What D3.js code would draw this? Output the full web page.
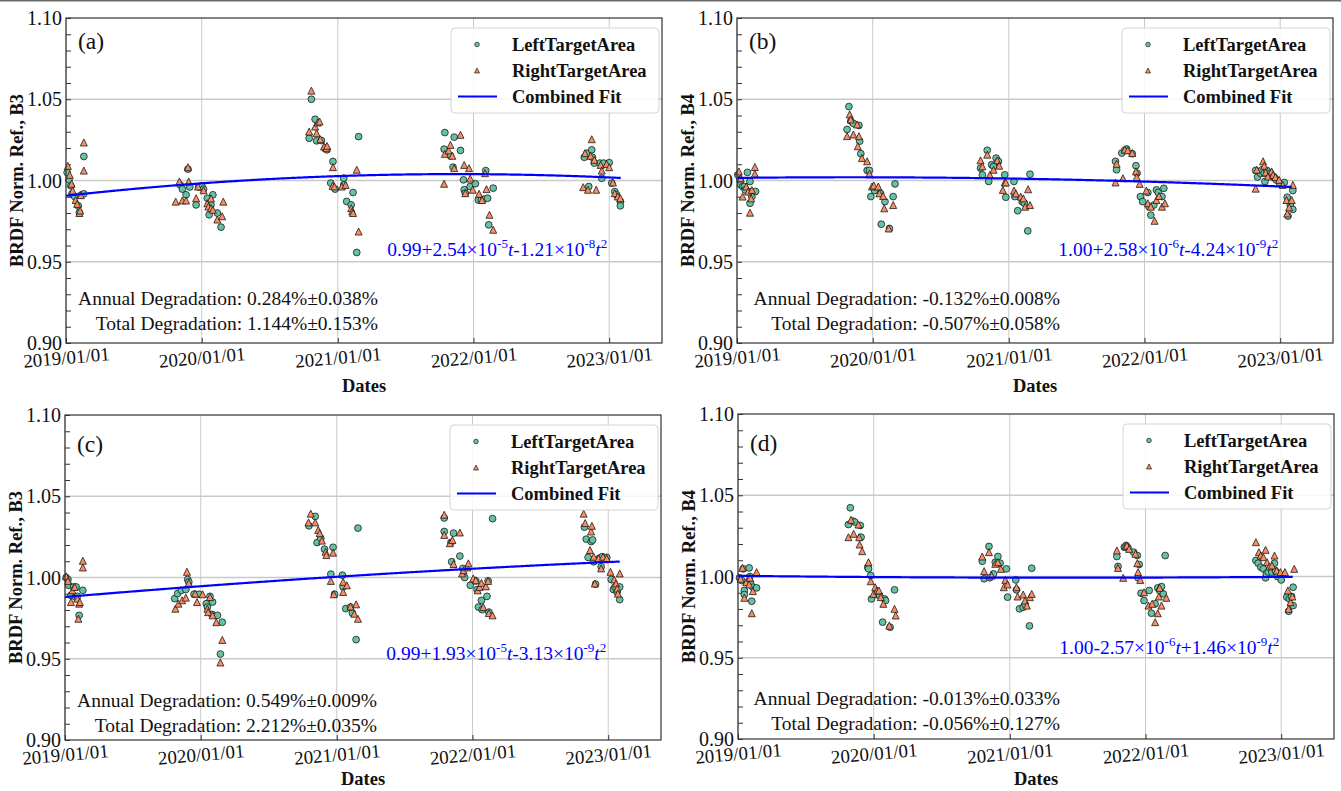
<!DOCTYPE html>
<html>
<head>
<meta charset="utf-8">
<script src="https://cdn.jsdelivr.net/npm/d3@7"></script>
<style>
  html, body { margin: 0; padding: 0; background: #fff; }
  svg { display: block; font-family: "Liberation Serif", "Times New Roman", serif; }
</style>
</head>
<body>
<svg id="chart" width="1341" height="791"></svg>
<script>
// ---- data: [t (days since 2019-01-01), normalized reflectance] ----
const leftA = [[3,1.0049],[8,1.0004],[13,0.9967],[16,0.9918],[23,0.9902],[33,0.9844],[36,0.9803],[40,0.991],[48,1.0148],[48,0.9918],
[307,0.9973],[313,0.9947],[323,0.9912],[328,1.007],[333,0.996],[350,0.985],[357,0.996],[365,0.9967],[370,0.9947],[380,0.9891],[385,0.9789],[390,0.985],[395,0.9912],[407,0.980],[417,0.9713],
[654,1.026],[660,1.05],[670,1.0377],[674,1.0244],[687,1.0246],[697,1.0199],[702,1.0189],[712,0.9984],[718,1.0117],[724,0.9947],[747,1.0014],[747,0.9973],[755,0.9871],[767,0.985],[772,0.9926],[782,0.9557],[787,1.027],
[1017,1.0193],[1019,1.0295],[1034,1.0152],[1041,1.0082],[1044,1.0267],[1061,1.0185],[1069,1.0004],[1071,0.9943],[1074,0.9922],[1087,0.9963],[1101,0.998],[1109,0.988],[1117,0.988],[1124,0.9885],[1129,1.0061],[1134,0.9891],[1137,0.9727],[1149,0.9953],
[1394,1.0143],[1401,1.0168],[1406,0.9963],[1414,1.0189],[1416,1.0143],[1421,1.0107],[1436,1.0107],[1441,1.0014],[1446,1.0107],[1461,1.011],[1468,0.9984],[1476,0.9932],[1481,0.9912],[1491,0.9871],[1491,0.9844]];

const rightA = [[5,1.009],[10,1.0035],[15,0.998],[18,0.9938],[26,0.988],[30,0.9856],[36,0.980],[38,0.9815],[40,0.991],[48,1.0234],[48,1.0061],
[295,0.987],[305,0.9994],[313,0.9877],[323,0.9877],[328,1.0082],[330,0.9994],[350,0.9891],[355,0.9963],[370,0.994],[380,0.986],[383,0.984],[390,0.983],[390,0.989],[395,0.982],[407,0.976],[420,0.978],[423,0.987],
[654,1.0301],[660,1.0553],[670,1.0332],[674,1.0291],[677,1.0357],[682,1.0363],[684,1.0254],[694,1.0209],[700,1.0199],[702,1.0213],[717,0.9967],[718,1.0082],[722,0.9963],[742,0.9963],[752,0.9973],[767,0.983],[770,0.981],[772,0.980],[782,1.0066],[787,0.9686],
[1017,0.998],[1019,1.0164],[1029,1.0185],[1034,1.0219],[1039,1.0152],[1044,1.0076],[1061,1.0281],[1071,1.0096],[1074,0.9922],[1084,1.0076],[1087,1.0012],[1094,0.9943],[1111,0.9918],[1119,0.988],[1127,1.0045],[1131,0.9947],[1139,0.9789],[1149,0.9697],
[1391,0.9959],[1396,1.0168],[1404,0.9943],[1411,1.0152],[1414,1.0254],[1421,1.0127],[1426,0.9943],[1438,1.0096],[1441,1.0061],[1454,1.0102],[1461,1.0082],[1471,0.9988],[1476,0.9922],[1484,0.9902],[1491,0.9891]];

const leftB = [[2,1.0035],[8,1.0004],[10,0.9973],[15,0.9963],[20,0.9963],[22,0.9942],[28,1.005],[35,0.9994],[35,0.986],[38,0.9932],[40,0.9901],[50,0.9932],
[296,1.0314],[301,1.0455],[306,1.0366],[313,1.0351],[328,1.0339],[330,1.0242],[333,1.0165],[350,1.0062],[356,1.0062],[360,0.9901],[370,0.9938],[386,0.9921],[388,0.9731],[398,0.987],[410,0.9705],[420,0.9901],[425,0.9979],
[655,1.0076],[660,1.0035],[673,1.0186],[677,0.9994],[685,1.0097],[690,1.0087],[697,1.0138],[703,1.0118],[720,1.0035],[723,0.9897],[745,0.9994],[747,0.9901],[755,0.9814],[767,0.987],[773,0.986],[782,0.969],[788,1.0039],
[1018,1.0118],[1021,1.0066],[1035,1.0169],[1043,1.0186],[1048,1.0194],[1063,1.0165],[1073,1.0091],[1076,1.0045],[1085,0.9901],[1091,0.987],[1105,0.9926],[1108,0.9839],[1113,0.9787],[1121,0.9849],[1128,0.9942],[1133,0.9926],[1143,0.9901],[1148,0.9952],
[1395,1.0062],[1400,1.0021],[1408,1.0045],[1412,1.0066],[1418,1.0045],[1420,0.9994],[1425,1.0062],[1435,1.0045],[1445,1.0021],[1450,1.0004],[1460,0.9979],[1472,0.9988],[1480,0.9897],[1482,0.9781],[1488,0.9849],[1495,0.9938],[1495,0.9822]];

const rightB = [[5,1.0056],[10,1.0014],[15,0.9901],[25,0.9963],[30,0.9932],[35,0.9802],[38,0.989],[40,0.9942],[48,1.0083],[48,1.0041],
[296,1.0273],[303,1.0407],[306,1.0376],[313,1.0283],[323,1.0345],[325,1.0211],[328,1.0273],[336,1.0138],[350,1.0118],[356,1.0041],[363,0.9963],[368,0.9969],[380,0.9963],[383,0.9921],[393,0.9905],[396,0.9829],[408,0.9705],[420,0.9849],
[655,1.0124],[660,1.0087],[673,1.0159],[680,1.0035],[690,1.0066],[700,1.0124],[705,1.0091],[715,0.9942],[720,0.9988],[723,0.9988],[745,0.9938],[750,0.9921],[763,0.9901],[770,0.989],[775,0.9839],[783,0.9946],[788,0.9849],
[1018,0.9988],[1021,1.0103],[1038,1.0014],[1043,1.019],[1051,1.0186],[1063,1.0169],[1073,1.0056],[1075,1.0021],[1083,0.9979],[1101,0.9938],[1105,0.986],[1113,0.9839],[1123,0.9752],[1128,0.988],[1135,0.9905],[1143,0.9839],[1151,0.986],
[1395,0.995],[1398,1.0066],[1415,1.0118],[1418,1.0091],[1422,1.005],[1428,1.0025],[1438,1.0056],[1442,1.0035],[1448,1.0021],[1458,1.0004],[1468,0.9973],[1478,0.988],[1480,0.9797],[1485,0.9835],[1492,0.988],[1495,0.9973]];

const leftC = [[3,1.0],[8,0.9988],[10,0.9952],[16,0.989],[23,0.9942],[28,0.988],[30,0.9942],[33,0.9884],[38,0.9767],[48,0.9921],
[295,0.987],[303,0.9901],[313,0.9921],[325,0.9926],[330,0.9988],[333,0.9973],[347,0.9897],[360,0.9897],[380,0.9839],[383,0.9818],[390,0.9884],[395,0.9773],[397,0.9849],[410,0.9767],[418,0.9529],[423,0.9725],
[656,1.0318],[673,1.0376],[678,1.0215],[688,1.0242],[698,1.0174],[715,1.0021],[721,1.0186],[725,0.9897],[746,1.0014],[748,0.9942],[755,0.9808],[768,0.9818],[773,0.9781],[783,0.9618],[788,1.0304],
[1020,1.0366],[1020,1.0283],[1038,1.0215],[1040,1.0097],[1045,1.0273],[1062,1.0132],[1070,1.0056],[1075,1.0],[1090,0.9952],[1105,0.9979],[1108,0.9926],[1112,0.9818],[1120,0.9859],[1122,0.9802],[1135,0.9884],[1138,0.9979],[1140,0.9787],[1150,1.0362],
[1397,1.031],[1402,1.0236],[1407,1.0124],[1415,1.0221],[1419,1.0231],[1422,1.0097],[1427,0.9959],[1437,1.0118],[1442,1.0066],[1445,1.0128],[1457,1.0124],[1469,0.9988],[1475,0.9926],[1479,0.9942],[1485,0.9911],[1492,0.9942],[1492,0.9864]];

const rightC = [[3,1.0008],[8,0.9979],[16,0.9849],[20,0.9921],[26,0.9942],[33,0.987],[36,0.9746],[38,0.9839],[40,0.9849],[48,1.0103],[48,1.0062],
[297,0.9808],[305,0.9839],[315,0.986],[325,0.9876],[328,1.0035],[333,0.9967],[350,0.9901],[355,0.9849],[370,0.9897],[383,0.9808],[385,0.9787],[390,0.988],[397,0.9767],[407,0.9725],[418,0.9477],[423,0.9616],
[655,1.0339],[661,1.0393],[673,1.0339],[681,1.0293],[685,1.0273],[691,1.0227],[701,1.0159],[703,1.0138],[715,0.9979],[721,1.0153],[723,0.9897],[748,0.9911],[748,0.9973],[758,0.9952],[768,0.9822],[778,0.9777],[783,0.9835],[788,0.9746],
[1020,1.0386],[1020,1.0262],[1035,1.0211],[1042,1.0231],[1045,1.0083],[1062,1.0277],[1068,1.0025],[1072,1.0045],[1082,1.0062],[1085,1.0087],[1098,0.9994],[1105,0.9983],[1110,0.9921],[1115,0.9942],[1120,0.9967],[1125,0.9818],[1132,0.9946],[1138,0.9979],[1140,0.9781],[1150,0.9767],
[1395,1.0393],[1399,1.0335],[1412,1.0169],[1415,1.0283],[1417,1.0318],[1422,1.0128],[1425,0.9963],[1435,1.0118],[1442,1.0056],[1447,1.0128],[1457,1.0118],[1467,1.0035],[1477,0.9988],[1482,0.9963],[1485,0.9932],[1487,0.9901],[1492,1.0025]];

const leftD = [[4,0.9992],[10,0.9975],[14,1.0047],[17,0.9914],[17,0.9889],[30,1.0053],[32,1.0],[34,0.9959],[37,0.9848],[40,0.9934],[50,0.993],
[297,1.032],[302,1.0423],[309,1.0341],[314,1.0335],[329,1.0314],[331,1.0242],[349,1.0057],[351,1.0047],[357,1.0006],[359,0.9862],[371,0.9889],[381,0.9883],[389,0.9719],[394,0.9862],[397,0.9852],[409,0.9688],[421,0.9918],
[657,1.0094],[662,0.9986],[675,1.0185],[677,0.9992],[687,1.0016],[692,1.0088],[699,1.0123],[705,1.0082],[722,1.0047],[725,0.9873],[747,0.9979],[749,0.9918],[757,0.9801],[767,0.9811],[772,0.9828],[784,0.9696],[790,1.0051],
[1019,1.0123],[1022,1.0062],[1039,1.0181],[1044,1.0191],[1049,1.0177],[1064,1.015],[1074,1.0129],[1076,0.9992],[1079,1.0074],[1084,0.9897],[1092,0.9852],[1106,0.9914],[1112,0.9774],[1122,0.9832],[1129,0.993],[1134,0.9914],[1139,0.9938],[1144,0.9893],[1149,1.0129],
[1393,1.0099],[1399,1.0082],[1406,1.0057],[1413,1.0047],[1419,0.9992],[1421,1.0016],[1426,1.0027],[1436,1.0027],[1443,1.0082],[1446,1.0033],[1451,1.0],[1461,0.9979],[1476,0.9873],[1481,0.9786],[1483,0.9862],[1489,0.9877],[1493,0.9934],[1493,0.9821]];

const rightD = [[7,0.9986],[12,1.0053],[17,0.9869],[22,0.9965],[30,0.9951],[32,0.9992],[37,0.9774],[40,0.991],[50,1.0027],
[297,1.0242],[304,1.0349],[311,1.0263],[324,1.032],[326,1.0242],[327,1.0197],[334,1.0156],[351,1.0088],[357,0.9971],[364,0.9893],[369,0.9934],[374,0.9914],[379,0.9914],[384,0.9873],[391,0.9832],[407,0.9698],[421,0.9801],[424,0.976],
[657,1.0123],[662,1.0033],[675,1.015],[682,1.0006],[692,1.0078],[699,1.0088],[707,1.0047],[715,0.9934],[719,0.9979],[725,0.9951],[749,0.9934],[752,0.9877],[767,0.9889],[772,0.9852],[777,0.9821],[785,0.9873],[790,0.9893],
[1019,1.016],[1022,1.0053],[1036,0.9992],[1042,1.0185],[1046,1.0191],[1052,1.017],[1069,1.014],[1074,1.0082],[1076,1.0027],[1082,0.9979],[1092,0.9903],[1104,0.9821],[1114,0.9832],[1122,0.9719],[1129,0.9774],[1132,0.9877],[1134,0.993],[1139,0.9821],[1152,0.9869],
[1393,1.0211],[1401,1.015],[1406,1.0129],[1413,1.0119],[1419,1.0164],[1423,1.0088],[1429,1.0062],[1436,1.0068],[1443,1.0129],[1449,1.0037],[1459,1.0027],[1471,1.0027],[1479,0.9914],[1481,0.9801],[1486,0.9842],[1491,0.9877],[1496,1.0047]];

// quadratic fit coefficients  c0 + c1 t + c2 t^2
const fitA = [0.9906, 2.54e-5, -1.21e-8];
const fitB = [1.0016, 2.58e-6, -4.24e-9];
const fitC = [0.9880, 1.93e-5, -3.13e-9];
const fitD = [1.0004, -2.57e-6, 1.46e-9];
const fitRange = [0, 1494];

const panelLabels = ["(a)", "(b)", "(c)", "(d)"];
const bandNames = ["B3", "B4", "B3", "B4"];
const annualDeg = ["0.284%±0.038%", "-0.132%±0.008%", "0.549%±0.009%", "-0.013%±0.033%"];
const totalDeg = ["1.144%±0.153%", "-0.507%±0.058%", "2.212%±0.035%", "-0.056%±0.127%"];
const xTickLabels = ["2019/01/01", "2020/01/01", "2021/01/01", "2022/01/01", "2023/01/01"];
const yTickLabels = ["0.90", "0.95", "1.00", "1.05", "1.10"];
const legendLabels = ["LeftTargetArea", "RightTargetArea", "Combined Fit"];

// ---- drawing ----
const DAY = 864e5;
const T0 = Date.UTC(2019, 0, 1);
const X_END_DAYS = 1603;
const COLORS = { left: "#66c2a5", right: "#fc8d62", fit: "#0000ff", grid: "#c9c9c9", spine: "#333" };

const panels = [
  { x: 66,  y: 18,  w: 596, h: 325, labelDy: 31, eqDy: 238, degDy: 287, degDx: 312, titleDy: 49, left: leftA, right: rightA, fit: fitA },
  { x: 737, y: 18,  w: 596, h: 325, labelDy: 31, eqDy: 238, degDy: 287, degDx: 323, titleDy: 49, left: leftB, right: rightB, fit: fitB },
  { x: 65,  y: 415, w: 596, h: 325, labelDy: 37, eqDy: 245, degDy: 292, degDx: 312, titleDy: 45, left: leftC, right: rightC, fit: fitC },
  { x: 738, y: 414, w: 596, h: 325, labelDy: 37, eqDy: 240, degDy: 291, degDx: 322, titleDy: 46, left: leftD, right: rightD, fit: fitD }
];

const svg = d3.select("#chart");
svg.append("rect").attr("x", 0).attr("y", 0).attr("width", 1341).attr("height", 1.5).attr("fill", "#6a6a6a");

const toDate = t => new Date(T0 + t * DAY);
const triPath = r => `M0,${-r}L${r},${r}L${-r},${r}Z`;

function sciParts(v) {
  const a = Math.abs(v);
  const e = Math.floor(Math.log10(a));
  return { sign: v < 0 ? "-" : "+", mant: (a / Math.pow(10, e)).toFixed(2), exp: String(e) };
}

function drawPanel(i) {
  const P = panels[i];
  const g = svg.append("g").attr("transform", `translate(${P.x},${P.y})`);
  const x = d3.scaleUtc().domain([toDate(0), toDate(X_END_DAYS)]).range([0, P.w]);
  const y = d3.scaleLinear().domain([0.90, 1.10]).range([P.h, 0]);
  const yearDates = xTickLabels.map(s => new Date(Date.UTC(+s.slice(0, 4), 0, 1)));
  const yMajor = yTickLabels.map(Number);
  const yMinor = d3.range(0, 21).map(k => +(0.90 + k * 0.01).toFixed(2));

  // grid
  g.append("g").selectAll("line").data(yearDates).join("line")
    .attr("x1", d => x(d)).attr("x2", d => x(d)).attr("y1", 0).attr("y2", P.h)
    .attr("stroke", COLORS.grid).attr("stroke-width", 1);
  g.append("g").selectAll("line").data(yMajor.slice(1, -1)).join("line")
    .attr("x1", 0).attr("x2", P.w).attr("y1", d => y(d)).attr("y2", d => y(d))
    .attr("stroke", COLORS.grid).attr("stroke-width", 1.3);

  // y axis (inward ticks)
  const yAx = g.append("g").call(
    d3.axisLeft(y).tickValues(yMinor).tickSize(-5).tickPadding(4)
      .tickFormat(d => { const k = yMajor.findIndex(m => Math.abs(m - d) < 1e-9); return k >= 0 ? yTickLabels[k] : ""; })
  );
  yAx.select(".domain").remove();
  yAx.selectAll("line").attr("stroke", COLORS.spine).attr("stroke-width", 1);
  yAx.selectAll("text").attr("font-size", 20).attr("font-family", "Liberation Serif").attr("fill", "#111").attr("dy", "0.33em");

  // x axis (inward ticks, tilted labels)
  const xAx = g.append("g").attr("transform", `translate(0,${P.h})`).call(
    d3.axisBottom(x).tickValues(yearDates).tickSize(-5).tickFormat((d, j) => xTickLabels[j])
  );
  xAx.select(".domain").remove();
  xAx.selectAll("line").attr("stroke", COLORS.spine);
  xAx.selectAll("text").attr("font-size", 19).attr("font-family", "Liberation Serif").attr("fill", "#111")
    .attr("y", 21).attr("dy", null).attr("transform", "rotate(-5,0,15)");

  // scatter: left target area (circles), then right target area (triangles)
  g.append("g").selectAll("circle").data(P.left).join("circle")
    .attr("cx", d => x(toDate(d[0]))).attr("cy", d => y(d[1])).attr("r", 3.4)
    .attr("fill", COLORS.left).attr("stroke", "#1a1a1a").attr("stroke-width", 0.8);
  g.append("g").selectAll("path").data(P.right).join("path")
    .attr("transform", d => `translate(${x(toDate(d[0]))},${y(d[1])})`).attr("d", triPath(3.5))
    .attr("fill", COLORS.right).attr("stroke", "#1a1a1a").attr("stroke-width", 0.8);

  // combined quadratic fit
  const c = P.fit;
  const ts = d3.range(fitRange[0], fitRange[1] + 1, 4);
  g.append("path").datum(ts)
    .attr("d", d3.line().x(t => x(toDate(t))).y(t => y(c[0] + c[1] * t + c[2] * t * t)))
    .attr("fill", "none").attr("stroke", COLORS.fit).attr("stroke-width", 2.2);

  // frame
  g.append("rect").attr("width", P.w).attr("height", P.h).attr("fill", "none")
    .attr("stroke", COLORS.spine).attr("stroke-width", 1.2);

  // panel tag
  g.append("text").attr("x", 12).attr("y", P.labelDy).attr("font-size", 23.5).attr("fill", "#111").text(panelLabels[i]);

  // fit equation
  const p1 = sciParts(c[1]), p2 = sciParts(c[2]);
  const eq = g.append("text").attr("x", x(yearDates[4]) - 2).attr("y", P.eqDy)
    .attr("text-anchor", "end").attr("font-size", 19.5).attr("fill", COLORS.fit);
  eq.append("tspan").text(`${c[0].toFixed(2)}${p1.sign}${p1.mant}×10`);
  eq.append("tspan").attr("font-size", 13).attr("dy", -8).text(p1.exp);
  eq.append("tspan").attr("font-style", "italic").attr("dy", 8).text("t");
  eq.append("tspan").text(`${p2.sign}${p2.mant}×10`);
  eq.append("tspan").attr("font-size", 13).attr("dy", -8).text(p2.exp);
  eq.append("tspan").attr("font-style", "italic").attr("dy", 8).text("t");
  eq.append("tspan").attr("font-size", 13).attr("dy", -8).text("2");

  // degradation annotation
  g.append("text").attr("x", P.degDx).attr("y", P.degDy).attr("text-anchor", "end")
    .attr("font-size", 19.5).attr("fill", "#111").text(`Annual Degradation: ${annualDeg[i]}`);
  g.append("text").attr("x", P.degDx).attr("y", P.degDy + 24.5).attr("text-anchor", "end")
    .attr("font-size", 19.5).attr("fill", "#111").text(`Total Degradation: ${totalDeg[i]}`);

  // legend
  const lw = 208, lh = 85;
  const lg = g.append("g").attr("transform", `translate(${P.w - 3 - lw},10)`);
  lg.append("rect").attr("width", lw).attr("height", lh).attr("rx", 4)
    .attr("fill", "#fff").attr("fill-opacity", 0.85).attr("stroke", "#d4d4d4").attr("stroke-width", 1);
  const rows = [16.5, 42.5, 68.5];
  lg.append("circle").attr("cx", 26).attr("cy", rows[0]).attr("r", 2.3)
    .attr("fill", COLORS.left).attr("stroke", "#1a1a1a").attr("stroke-width", 0.7);
  lg.append("path").attr("transform", `translate(26,${rows[1]})`).attr("d", triPath(2.5))
    .attr("fill", COLORS.right).attr("stroke", "#1a1a1a").attr("stroke-width", 0.7);
  lg.append("line").attr("x1", 7).attr("x2", 46).attr("y1", rows[2]).attr("y2", rows[2])
    .attr("stroke", COLORS.fit).attr("stroke-width", 2.2);
  lg.selectAll("text.lab").data(legendLabels).join("text").attr("class", "lab")
    .attr("x", 61).attr("y", (d, k) => rows[k] + 6.5)
    .attr("font-size", 18.5).attr("font-weight", "bold").attr("fill", "#111").text(d => d);

  // axis titles
  g.append("text").attr("transform", `translate(-49,${P.h / 2}) rotate(-90)`).attr("text-anchor", "middle")
    .attr("dy", "0.35em").attr("font-size", 18.5).attr("font-weight", "bold").attr("fill", "#111")
    .text(`BRDF Norm. Ref., ${bandNames[i]}`);
  g.append("text").attr("x", P.w / 2).attr("y", P.h + P.titleDy).attr("text-anchor", "middle")
    .attr("font-size", 18.5).attr("font-weight", "bold").attr("fill", "#111").text("Dates");
}

panels.forEach((_, i) => drawPanel(i));
</script>
</body>
</html>
